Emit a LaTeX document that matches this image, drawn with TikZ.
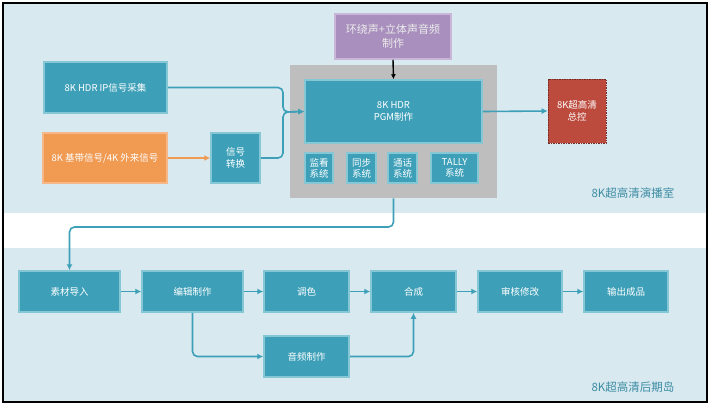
\documentclass[tikz,border=0pt]{standalone}
\usepackage{fontspec}
\newfontfamily\cjk{Noto Sans CJK SC}
\usetikzlibrary{arrows.meta}
\definecolor{bgblue}{HTML}{D8E9F0}
\definecolor{boxteal}{HTML}{3DA0B8}
\definecolor{edgeteal}{HTML}{86C7D6}
\definecolor{boxorange}{HTML}{F09A52}
\definecolor{edgeorange}{HTML}{F6B889}
\definecolor{boxpurple}{HTML}{A98FBD}
\definecolor{edgepurple}{HTML}{CAB6D8}
\definecolor{boxgray}{HTML}{BEBEBE}
\definecolor{boxred}{HTML}{BC4B3E}
\definecolor{labelteal}{HTML}{3D8CA3}

\begin{document}
\begin{tikzpicture}[x=1pt,y=-1pt,thick,
    box/.style={draw=edgeteal,fill=boxteal,line width=1.5pt,inner sep=0pt,
        text=white,font=\cjk\fontsize{9.5}{12}\selectfont,align=center},
    small/.style={box,minimum width=28pt,minimum height=30pt,
        font=\cjk\fontsize{9.5}{11}\selectfont},
    flow/.style={draw=boxteal,line width=1.6pt,rounded corners=5pt,
        -{Latex[length=6pt,width=6pt]}},
    area/.style={font=\cjk\fontsize{11.5}{13}\selectfont,text=labelteal}]

        % backgrounds
        \useasboundingbox (0,0) rectangle (712,408);
        \fill[bgblue] (3,3) rectangle (707,213);
        \fill[bgblue] (3,248) rectangle (707,402);
        \draw[line width=1.2pt] (3,3) rectangle (707,402);

        % studio
        \node[fill=boxgray,minimum width=207pt,minimum height=133pt] (gray) at (393.5,131.5) {};
        \node[box,minimum width=177pt,minimum height=63pt] (pgm) at (393.5,111.5) {8K HDR\\PGM制作};
        \foreach \n/\x/\w/\t in {
        mon/319/28/{监看\\系统},
        sync/361.5/29/{同步\\系统},
        talk/402.5/29/{通话\\系统},
        tally/454.5/47/{TALLY\\系统}} {
        \node[small,minimum width=\w] (\n) at (\x,168) {\t};
        }
        \node[box,minimum width=123pt,minimum height=51pt] (ip) at (105.5,87.5) {8K HDR IP信号采集};
        \node[box,draw=edgeorange,fill=boxorange,minimum width=124pt,minimum height=50pt] (base) at (105,158) {8K 基带信号/4K 外来信号};
        \node[box,minimum width=49pt,minimum height=50pt] (conv) at (235.5,158) {信号\\转换};
        \node[box,draw=edgepurple,fill=boxpurple,minimum width=116pt,minimum height=45pt,
            text=white!92!black,font=\cjk\fontsize{11}{14}\selectfont] (audio) at (393,36.5) {环绕声+立体声音频\\制作};
        \node[box,draw=boxred!60!black,densely dotted,line width=0.6pt,fill=boxred,
            minimum width=58pt,minimum height=64pt] (master) at (577,111) {8K超高清\\总控};
        \node[area] (studio) at (633,193) {8K超高清演播室};

        \coordinate (join) at (283,112);
        \draw[flow] (ip.east) -| (join) -- (pgm.west);
        \draw[flow] (conv.east) -| (join) -- (pgm.west);
        \draw[flow,draw=boxorange] (base.east) -- (conv.west);
        \draw[line width=1.4pt,-{Latex[length=5pt,width=5pt]}] (audio.south) -- (pgm.north);
        \draw[flow] (pgm.east) -- (master.west);

        % post
        \foreach \n/\x/\w/\t in {
        load/69.5/101/素材导入,
        edit/192.5/101/编辑制作,
        grade/306.5/85/调色,
        comp/413.5/85/合成,
        check/520/84/审核修改,
        out/626/84/输出成品} {
        \node[box,minimum width=\w,minimum height=41pt] (\n) at (\x,291.5) {\t};
        }
        \node[box,minimum width=85pt,minimum height=41pt] (sound) at (306.5,356.5) {音频制作};
        \node[area] (post) at (633,387) {8K超高清后期岛};

        \foreach \a/\b in {load/edit,edit/grade,grade/comp,comp/check,check/out}
        \draw[flow] (\a) -- (\b);
        \draw[flow] (edit.south) |- (sound.west);
        \draw[flow] (sound.east) -| (comp.south);

        \coordinate (drop) at (393.5,227);
        \draw[flow] (gray.south) -- (drop) -| (load.north);
    \end{tikzpicture}
\end{document}
